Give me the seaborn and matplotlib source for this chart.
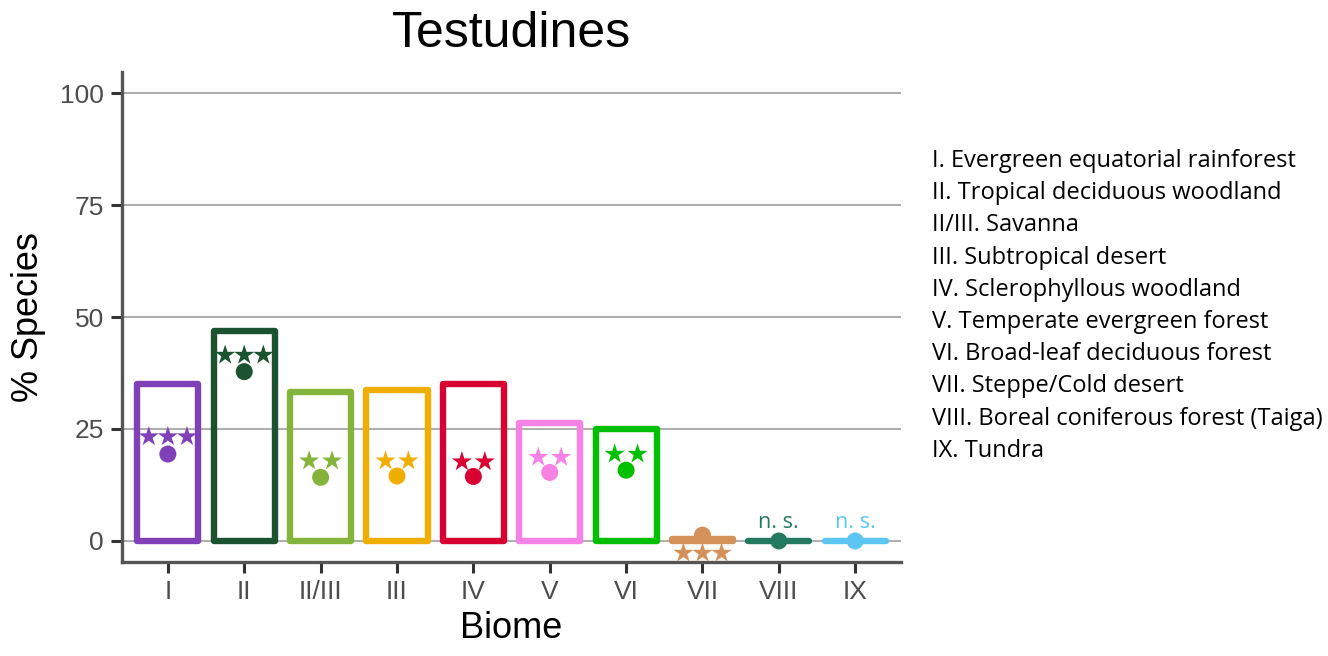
import numpy as np
import pandas as pd
import matplotlib
matplotlib.use("Agg")
import matplotlib.pyplot as plt
import seaborn as sns

biomes = ["I", "II", "II/III", "III", "IV", "V", "VI", "VII", "VIII", "IX"]
bar_pct = [35.1, 46.8, 33.3, 33.8, 35.0, 26.3, 25.1, 0.5, 0.0, 0.0]
dot_pct = [19.4, 37.8, 14.2, 14.5, 14.4, 15.3, 15.8, 1.3, 0.0, 0.0]
star_pct = [23.3, 41.5, 17.9, 17.9, 17.7, 18.7, 19.4, -2.7, 4.2, 4.2]
n_stars = [3, 3, 2, 2, 2, 2, 2, 3, 0, 0]
colors = ["#8040B8", "#1B5230", "#85B43C", "#F0AE00", "#D90032",
          "#F782E6", "#00C000", "#D4915A", "#237A5E", "#5CC6F2"]
legend_lines = [
    "I. Evergreen equatorial rainforest",
    "II. Tropical deciduous woodland",
    "II/III. Savanna",
    "III. Subtropical desert",
    "IV. Sclerophyllous woodland",
    "V. Temperate evergreen forest",
    "VI. Broad-leaf deciduous forest",
    "VII. Steppe/Cold desert",
    "VIII. Boreal coniferous forest (Taiga)",
    "IX. Tundra",
]

sns.set_style("white")
plt.rcParams["font.family"] = ["Liberation Sans", "DejaVu Sans"]

df = pd.DataFrame({"biome": biomes, "bar": bar_pct, "dot": dot_pct,
                   "pos": np.arange(len(biomes))})
pal = dict(zip(biomes, colors))

# star rows: one row per star, spread around the category position
rows = []
for i, (b, n, y) in enumerate(zip(biomes, n_stars, star_pct)):
    if n == 3:
        offs = [-0.25, 0, 0.25]
    elif n == 2:
        offs = [-0.15, 0.15]
    else:
        offs = []
    for o in offs:
        rows.append({"biome": b, "x": i + o, "y": y})
stars = pd.DataFrame(rows)

fig = plt.figure(figsize=(13.28, 6.56), dpi=100)
ax = fig.add_axes([0.0919, 0.1433, 0.5866, 0.7469])

sns.barplot(data=df, x="biome", y="bar", hue="biome", palette=pal,
            fill=False, width=0.8, linewidth=4.6, legend=False, ax=ax)
for p in ax.patches:
    p.set_joinstyle("round")
    p.set_capstyle("round")

sns.scatterplot(data=df, x="pos", y="dot", hue="biome", palette=pal,
                s=150, linewidth=0, legend=False, ax=ax, zorder=3)
sns.scatterplot(data=stars, x="x", y="y", hue="biome", palette=pal,
                marker="*", s=230, linewidth=0, legend=False, ax=ax, zorder=3)

for i, n in enumerate(n_stars):
    if n == 0:
        ax.text(i, star_pct[i], "n. s.", ha="center", va="center",
                fontsize=15.5, color=colors[i], family=["Open Sans", "DejaVu Sans"])

ax.set_xlim(-0.6, 9.6)
ax.set_ylim(-4.7, 104.7)
ax.set_yticks([0, 25, 50, 75, 100])
ax.set_xticks(range(len(biomes)))
ax.set_xticklabels(biomes)
ax.yaxis.grid(True, color="#B0B0B0", linewidth=1.5)
ax.xaxis.grid(False)
ax.set_axisbelow(True)

for s in ["top", "right"]:
    ax.spines[s].set_visible(False)
for s in ["left", "bottom"]:
    ax.spines[s].set_color("#555555")
    ax.spines[s].set_linewidth(2.4)

ax.tick_params(axis="both", colors="#333333", labelcolor="#4D4D4D",
               labelsize=19, length=8, width=2.2, direction="out", bottom=True, left=True)
ax.tick_params(axis="x", pad=5)
ax.tick_params(axis="y", pad=5)
ax.set_xlabel("Biome", fontsize=26, labelpad=5, color="black")
ax.set_ylabel("% Species", fontsize=26, labelpad=10, color="black")
ax.set_title("Testudines", fontsize=36, pad=18, color="black")

y0 = 161
for k, line in enumerate(legend_lines):
    fig.text(932 / 1328, 1 - (y0 + k * 32.2) / 656, line, ha="left", va="center",
             fontsize=17, color="black", family=["Open Sans", "DejaVu Sans"])

fig.savefig("out.png", dpi=100)
